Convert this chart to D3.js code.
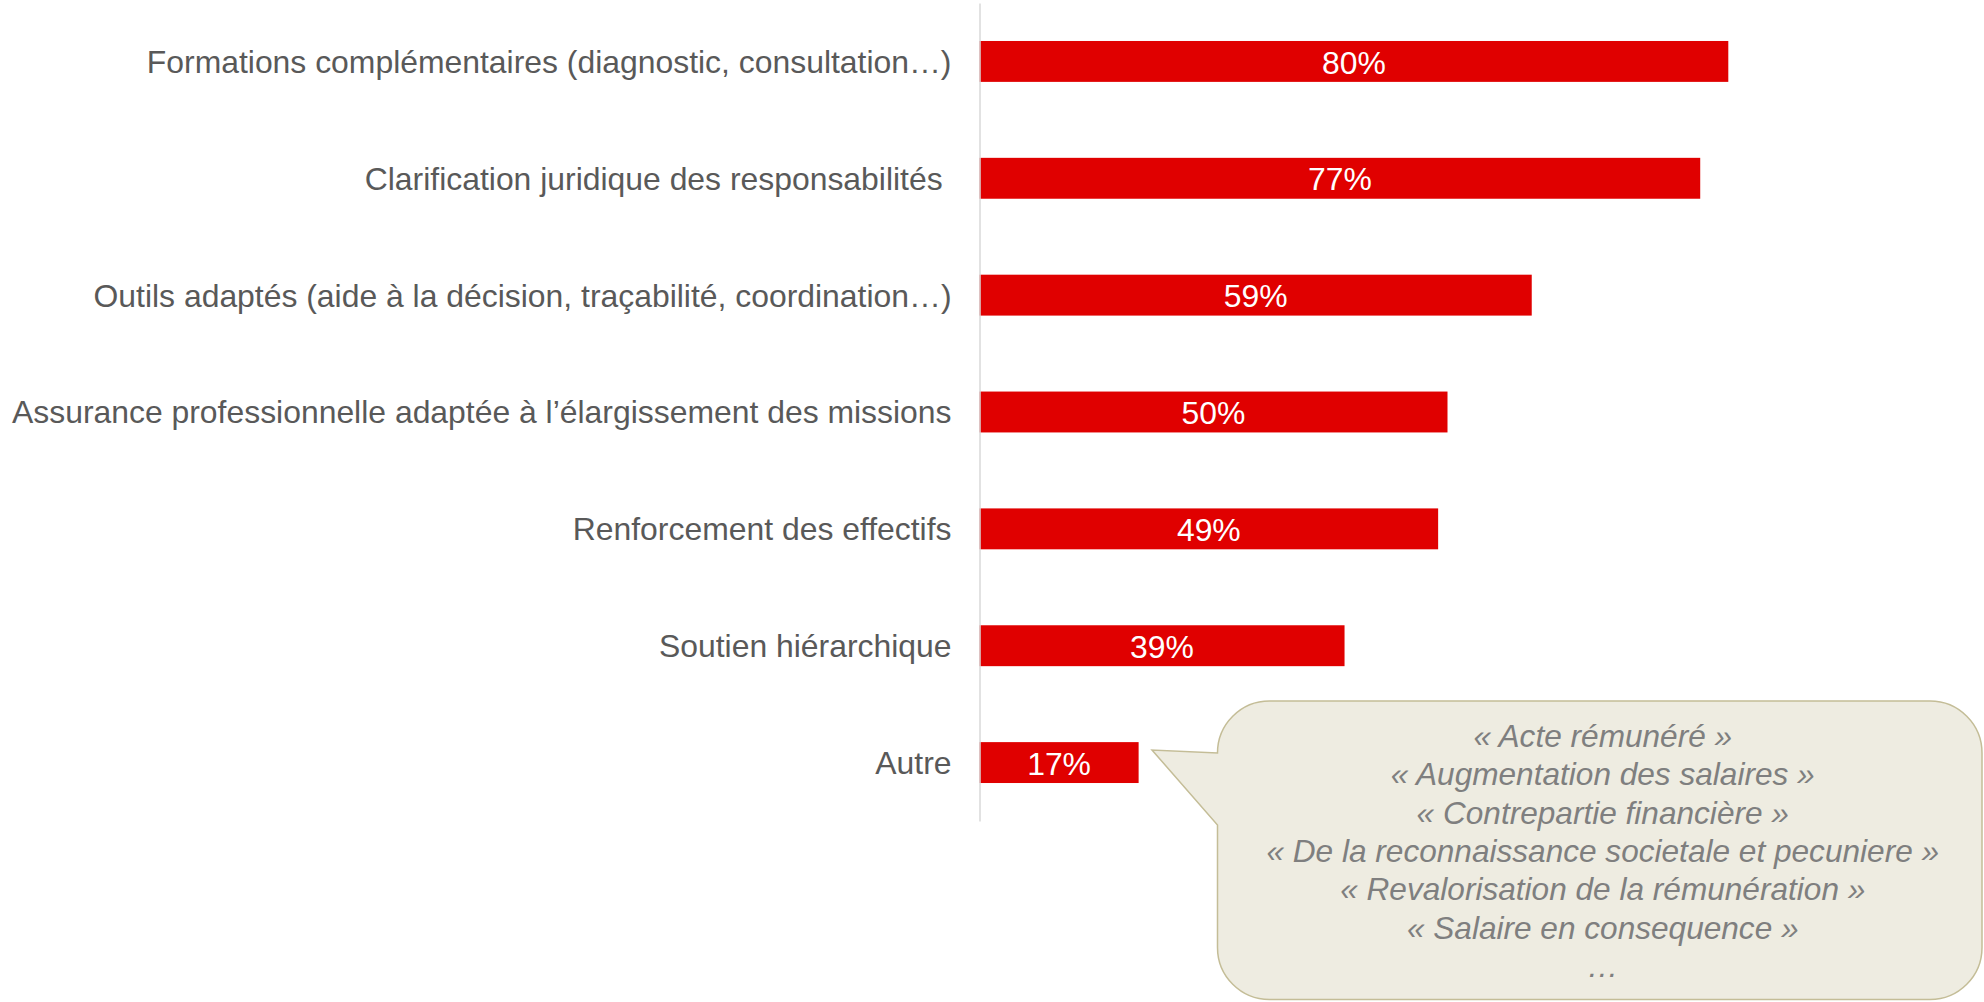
<!DOCTYPE html>
<html>
<head>
<meta charset="utf-8">
<script src="https://cdn.jsdelivr.net/npm/d3@7"></script>
<style>
  html, body { margin: 0; padding: 0; background: #ffffff; }
  svg { display: block; }
  .tick text { white-space: pre; }
</style>
</head>
<body>
<div id="chart"></div>
<script>
// Categories, top to bottom
const categories = [
  "Formations complémentaires (diagnostic, consultation…)",
  "Clarification juridique des responsabilités ",
  "Outils adaptés (aide à la décision, traçabilité, coordination…)",
  "Assurance professionnelle adaptée à l’élargissement des missions",
  "Renforcement des effectifs",
  "Soutien hiérarchique",
  "Autre"
];

// Share of respondents (%)
const values = [80, 77, 59, 50, 49, 39, 17];

// Verbatim answers given under "Autre"
const quotes = [
  "« Acte rémunéré »",
  "« Augmentation des salaires »",
  "« Contrepartie financière »",
  "« De la reconnaissance societale et pecuniere »",
  "« Revalorisation de la rémunération »",
  "« Salaire en consequence »",
  "…"
];

const W = 1984, H = 1002;
const font = "'Liberation Sans', Arial, sans-serif";

const svg = d3.select("#chart").append("svg")
  .attr("width", W).attr("height", H);

const x = d3.scaleLinear().domain([0, 100]).range([979.5, 979.5 + 936]);
const y = d3.scaleBand().domain(categories).range([3, 821])
  .paddingInner(0.65).paddingOuter(0.325);

// Bars
svg.append("g").selectAll("rect")
  .data(values)
  .join("rect")
  .attr("x", x(0))
  .attr("y", (d, i) => y(categories[i]))
  .attr("width", d => x(d) - x(0))
  .attr("height", y.bandwidth())
  .attr("fill", "#e00000");

// Value labels inside bars
svg.append("g").selectAll("text")
  .data(values)
  .join("text")
  .attr("x", d => (x(0) + x(d)) / 2)
  .attr("y", (d, i) => y(categories[i]) + y.bandwidth() / 2)
  .attr("dy", "0.38em")
  .attr("text-anchor", "middle")
  .attr("fill", "#ffffff")
  .style("font-family", font)
  .style("font-size", "31.9px")
  .text(d => d + "%");

// Category axis
const axis = svg.append("g")
  .attr("transform", `translate(${x(0)},0)`)
  .call(d3.axisLeft(y).tickSize(0).tickSizeOuter(0).tickPadding(28));
axis.select(".domain").attr("stroke", "#d9d9d9").attr("stroke-width", 1.5);
axis.selectAll(".tick text")
  .attr("dy", "0.36em")
  .attr("fill", "#595959")
  .style("font-family", font)
  .style("font-size", "31.9px");

// Speech bubble with the "Autre" answers
const bx0 = 1217.5, bx1 = 1982, by0 = 701, by1 = 999.5, r = 52;
const tipX = 1152, tipY = 750, baseTop = by0 + r, baseBot = 825;
const bubble = d3.path();
bubble.moveTo(bx0 + r, by0);
bubble.lineTo(bx1 - r, by0);
bubble.arcTo(bx1, by0, bx1, by0 + r, r);
bubble.lineTo(bx1, by1 - r);
bubble.arcTo(bx1, by1, bx1 - r, by1, r);
bubble.lineTo(bx0 + r, by1);
bubble.arcTo(bx0, by1, bx0, by1 - r, r);
bubble.lineTo(bx0, baseBot);
bubble.lineTo(tipX, tipY);
bubble.lineTo(bx0, baseTop);
bubble.arcTo(bx0, by0, bx0 + r, by0, r);
bubble.closePath();

svg.append("path")
  .attr("d", bubble.toString())
  .attr("fill", "#eeece1")
  .attr("stroke", "#c4bd97")
  .attr("stroke-width", 1.5);

svg.append("g").selectAll("text")
  .data(quotes)
  .join("text")
  .attr("x", (bx0 + bx1) / 2 + 3)
  .attr("y", (d, i) => 747 + i * 38.3)
  .attr("text-anchor", "middle")
  .attr("fill", "#7f7f7f")
  .style("font-family", font)
  .style("font-style", "italic")
  .style("font-size", "31.6px")
  .text(d => d);
</script>
</body>
</html>
